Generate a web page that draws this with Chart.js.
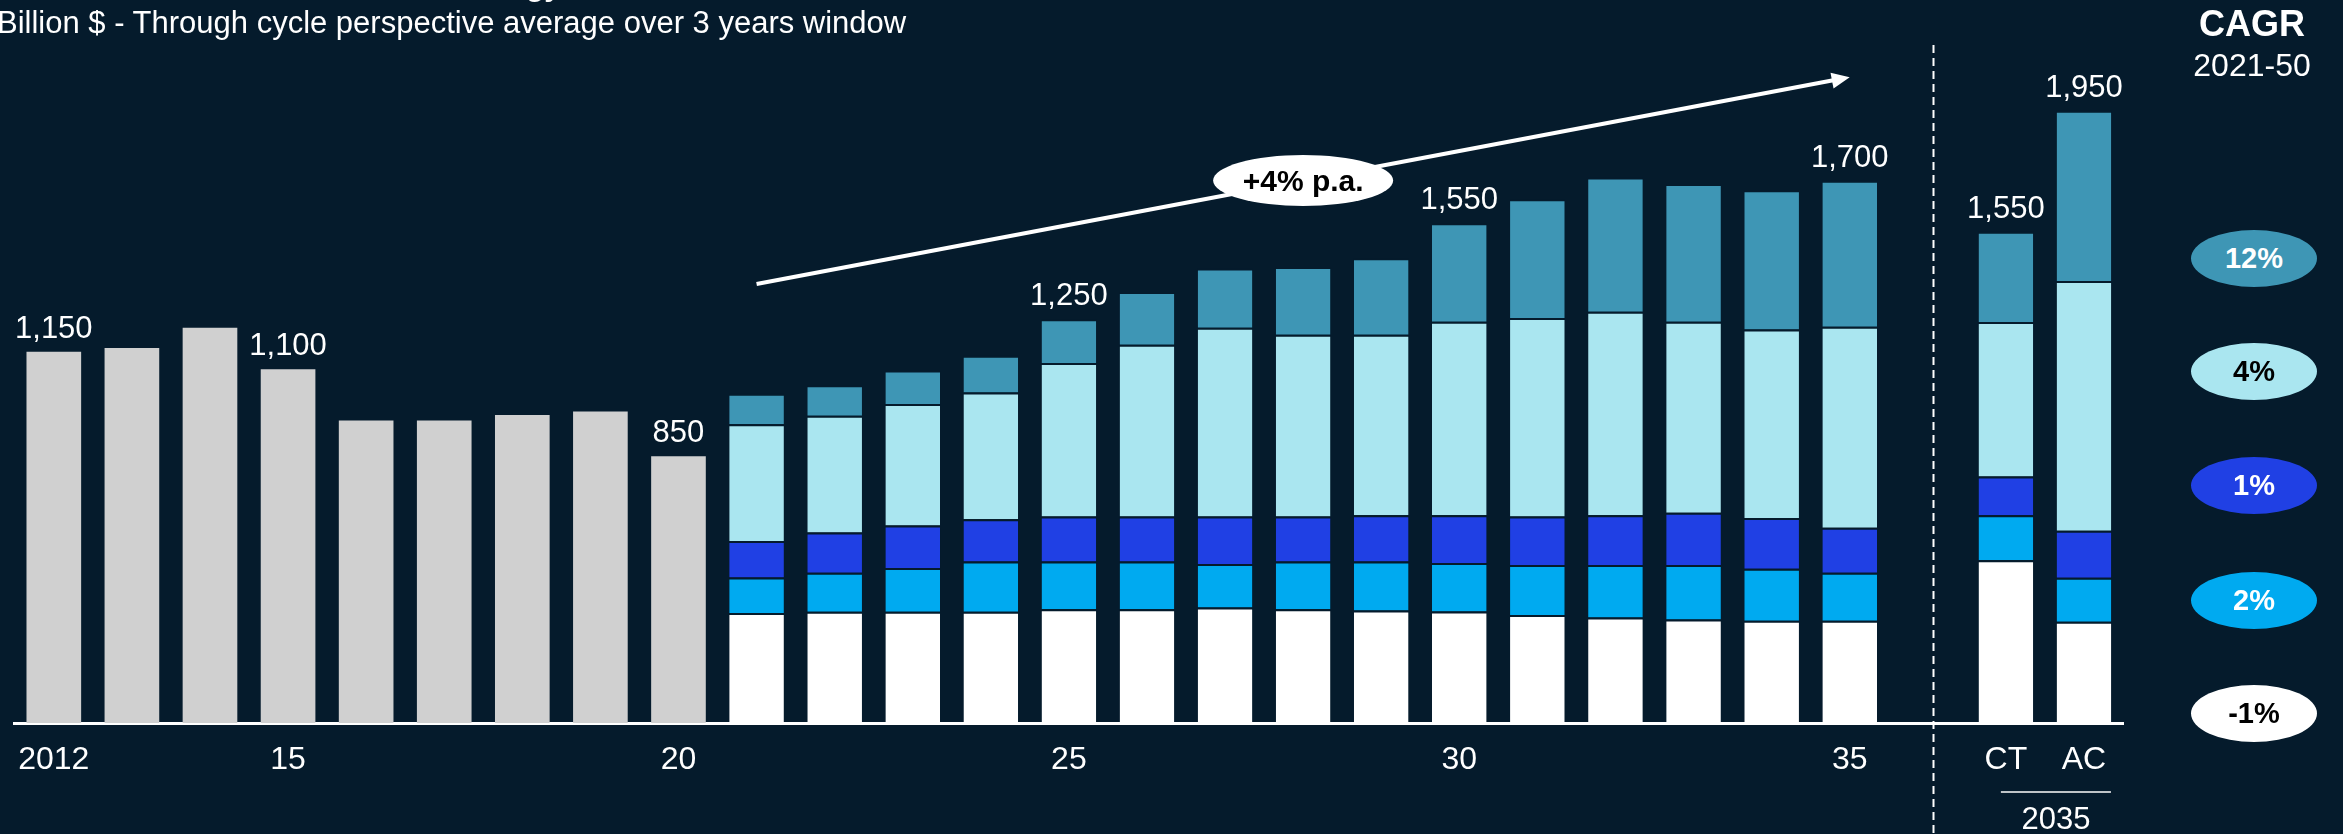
<!DOCTYPE html>
<html>
<head>
<meta charset="utf-8">
<script src="https://cdn.jsdelivr.net/npm/chart.js@4.4.1/dist/chart.umd.min.js"></script>
<style>
  html, body { margin: 0; padding: 0; background: #051b2c; }
  #wrap { position: relative; width: 2343px; height: 834px; overflow: hidden;
          font-family: "Liberation Sans", Arial, sans-serif; color: #fff; }
  #chart { position: absolute; left: 0; top: 0; }
  .txt { position: absolute; white-space: nowrap; line-height: 1; }
  .pill { position: absolute; width: 126px; height: 57px; border-radius: 50%;
          display: flex; align-items: center; justify-content: center;
          font-weight: bold; font-size: 29px; }
</style>
</head>
<body>
<div id="wrap">
  <canvas id="chart" width="2343" height="834"></canvas>
  <div class="txt" style="right:1782px; top:-29px; font-size:30px; font-weight:bold;">Energy</div>
  <div class="txt" style="left:-3px; top:7px; font-size:31px;">Billion $ - Through cycle perspective average over 3 years window</div>
  <div class="txt" style="left:2252px; top:6px; font-size:36px; font-weight:bold; transform:translateX(-50%);">CAGR</div>
  <div class="txt" style="left:2252px; top:49px; font-size:32px; transform:translateX(-50%);">2021-50</div>
  <div id="legend"></div>
</div>
<script>
// categories: 2012-2035, an empty slot, then the two 2035 scenarios
const categories = ['2012', '2013', '2014', '2015', '2016', '2017', '2018', '2019', '2020',
    '2021', '2022', '2023', '2024', '2025', '2026', '2027', '2028', '2029', '2030',
    '2031', '2032', '2033', '2034', '2035', '', 'CT', 'AC'];
const tickText = ['2012', '', '', '15', '', '', '', '', '20', '', '', '', '', '25', '', '', '', '',
    '30', '', '', '', '', '35', '', 'CT', 'AC'];
const valueLabels = ['1,150', '', '', '1,100', '', '', '', '', '850', '', '', '', '', '1,250', '', '', '', '',
    '1,550', '', '', '', '', '1,700', '', '1,550', '1,950'];

// 2012-2020 totals
const historical = [1158, 1170, 1233, 1104, 944, 944, 961, 972, 832];

// 2021-2035, gap, CT, AC  (bottom to top)
const seriesMinus1 = [343, 347, 347, 347, 355, 355, 360, 355, 351, 348, 337, 329, 323, 319, 319, null, 508, 316];
const series2 = [111, 122, 137, 157, 149, 149, 136, 149, 153, 151, 156, 164, 170, 162, 150, null, 140, 137];
const series1 = [114, 125, 132, 132, 140, 140, 148, 140, 144, 149, 151, 155, 163, 159, 140, null, 121, 147];
const series4 = [364, 365, 379, 395, 479, 536, 589, 567, 563, 604, 620, 635, 596, 588, 627, null, 482, 779];
const series12 = [95, 95, 105, 115, 137, 165, 185, 212, 239, 307, 370, 419, 430, 434, 456, null, 282, 531];

const cagrLabels = ['-1%', '2%', '1%', '4%', '12%'];

// trend arrow: [category index, value]
const trendFrom = [9, 1370];
const trendTo = [23, 2015];
const trendText = '+4% p.a.';
const dividerAt = 24.07;
const groupText = '2035';

const bg = '#051b2c';
const colors = ['#ffffff', '#00aaf0', '#2040e4', '#aae6f0', '#3e96b5'];
const pillText = ['#000', '#fff', '#fff', '#000', '#fff'];

const lead = Array(historical.length).fill(null);
const stackSeries = [seriesMinus1, series2, series1, series4, series12];

const datasets = [{
    label: 'History',
    data: historical.concat(Array(categories.length - historical.length).fill(null)),
    backgroundColor: '#d0d0d0',
    borderWidth: 0
}];
stackSeries.forEach(function (s, i) {
    datasets.push({
        label: cagrLabels[i],
        data: lead.concat(s),
        backgroundColor: colors[i],
        borderColor: bg,
        borderWidth: { top: 2, left: 0, right: 0, bottom: 0 },
        borderSkipped: false
    });
});

// legend pills, top to bottom
const legend = document.getElementById('legend');
const pillY = [258, 371, 485, 600, 713];
for (let k = 0; k < 5; k++) {
    const i = 4 - k;
    const d = document.createElement('div');
    d.className = 'pill';
    d.style.left = (2254 - 63) + 'px';
    d.style.top = (pillY[k] - 28) + 'px';
    d.style.background = colors[i];
    d.style.color = pillText[i];
    d.textContent = cagrLabels[i];
    legend.appendChild(d);
}

const overlay = {
    id: 'overlay',
    afterDraw(chart) {
        const ctx = chart.ctx;
        const xs = chart.scales.x, ys = chart.scales.y;
        ctx.save();

        // value labels on top of bars
        ctx.fillStyle = '#fff';
        ctx.font = '31px "Liberation Sans", Arial, sans-serif';
        ctx.textAlign = 'center';
        ctx.textBaseline = 'alphabetic';
        valueLabels.forEach(function (txt, i) {
            if (!txt) return;
            let total = 0;
            chart.data.datasets.forEach(function (ds) { total += ds.data[i] || 0; });
            ctx.fillText(txt, xs.getPixelForValue(i), ys.getPixelForValue(total) - 14);
        });

        // trend arrow
        const x0 = xs.getPixelForValue(trendFrom[0]), y0 = ys.getPixelForValue(trendFrom[1]);
        const x1 = xs.getPixelForValue(trendTo[0]), y1 = ys.getPixelForValue(trendTo[1]);
        const ang = Math.atan2(y1 - y0, x1 - x0);
        ctx.strokeStyle = '#fff';
        ctx.lineWidth = 4;
        ctx.beginPath();
        ctx.moveTo(x0, y0);
        ctx.lineTo(x1 - 14 * Math.cos(ang), y1 - 14 * Math.sin(ang));
        ctx.stroke();
        ctx.beginPath();
        ctx.moveTo(x1, y1);
        ctx.lineTo(x1 - 18 * Math.cos(ang) + 8 * Math.sin(ang), y1 - 18 * Math.sin(ang) - 8 * Math.cos(ang));
        ctx.lineTo(x1 - 18 * Math.cos(ang) - 8 * Math.sin(ang), y1 - 18 * Math.sin(ang) + 8 * Math.cos(ang));
        ctx.closePath();
        ctx.fillStyle = '#fff';
        ctx.fill();

        // growth bubble
        const cx = (x0 + x1) / 2, cy = (y0 + y1) / 2;
        ctx.beginPath();
        ctx.ellipse(cx, cy, 90, 25.5, 0, 0, Math.PI * 2);
        ctx.fill();
        ctx.fillStyle = '#000';
        ctx.font = 'bold 30px "Liberation Sans", Arial, sans-serif';
        ctx.fillText(trendText, cx, cy + 10.5);

        // dashed divider
        const dx = Math.round(xs.getPixelForValue(dividerAt)) + 0.5;
        ctx.strokeStyle = '#fff';
        ctx.lineWidth = 2;
        ctx.setLineDash([8, 5]);
        ctx.beginPath();
        ctx.moveTo(dx, 45);
        ctx.lineTo(dx, chart.height);
        ctx.stroke();
        ctx.setLineDash([]);

        // 2035 group label under CT / AC
        const gx0 = xs.getPixelForValue(25) - 5, gx1 = xs.getPixelForValue(26) + 27;
        ctx.strokeStyle = '#bfc4c8';
        ctx.lineWidth = 2;
        ctx.beginPath();
        ctx.moveTo(gx0, 792);
        ctx.lineTo(gx1, 792);
        ctx.stroke();
        ctx.fillStyle = '#fff';
        ctx.font = '31px "Liberation Sans", Arial, sans-serif';
        ctx.fillText(groupText, (gx0 + gx1) / 2, 829);

        ctx.restore();
    }
};

Chart.defaults.font.family = '"Liberation Sans", Arial, sans-serif';

new Chart(document.getElementById('chart'), {
    type: 'bar',
    data: { labels: categories, datasets: datasets },
    options: {
        responsive: false,
        animation: false,
        devicePixelRatio: 1,
        layout: { padding: { left: 12, right: 220, top: 82, bottom: 0 } },
        datasets: { bar: { categoryPercentage: 1, barPercentage: 0.7 } },
        plugins: { legend: { display: false }, tooltip: { enabled: false } },
        scales: {
            x: {
                stacked: true,
                grid: { display: false, drawTicks: false },
                border: { display: true, color: '#ffffff', width: 3 },
                ticks: {
                    color: '#ffffff',
                    font: { size: 32 },
                    padding: 18,
                    autoSkip: false,
                    maxRotation: 0,
                    callback: function (v, i) { return tickText[i]; }
                },
                afterFit: function (s) { s.height = 111; }
            },
            y: { stacked: true, display: false, min: 0, max: 2000 }
        }
    },
    plugins: [overlay]
});
</script>
</body>
</html>
